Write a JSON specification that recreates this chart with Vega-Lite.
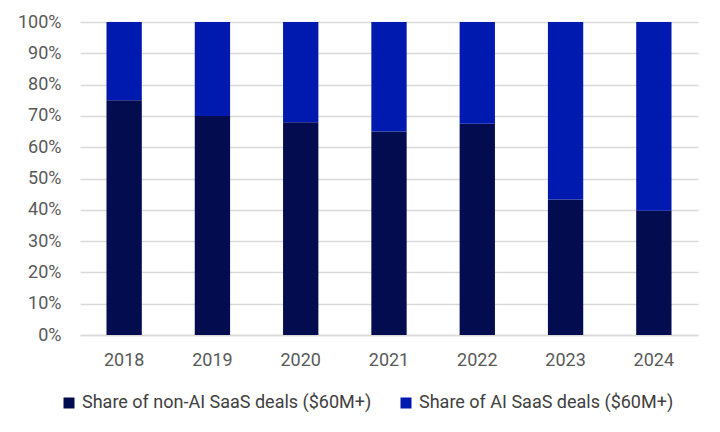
{
  "$schema": "https://vega.github.io/schema/vega-lite/v6.json",
  "width": 618,
  "height": 313,
  "autosize": "none",
  "padding": {"left": 80, "top": 22, "right": 22, "bottom": 97},
  "background": "white",
  "config": {
    "view": {"stroke": null},
    "font": "Roboto",
    "axis": {"labelFont": "Roboto", "labelFontSize": 18, "labelColor": "#595959"},
    "legend": {"labelFont": "Roboto", "labelFontSize": 18, "labelColor": "#404040", "labelLimit": 0}
  },
  "data": {
    "values": [
      {"year": "2018", "series": "Share of non-AI SaaS deals ($60M+)", "share": 0.75},
      {"year": "2019", "series": "Share of non-AI SaaS deals ($60M+)", "share": 0.70},
      {"year": "2020", "series": "Share of non-AI SaaS deals ($60M+)", "share": 0.68},
      {"year": "2021", "series": "Share of non-AI SaaS deals ($60M+)", "share": 0.65},
      {"year": "2022", "series": "Share of non-AI SaaS deals ($60M+)", "share": 0.675},
      {"year": "2023", "series": "Share of non-AI SaaS deals ($60M+)", "share": 0.433},
      {"year": "2024", "series": "Share of non-AI SaaS deals ($60M+)", "share": 0.397},
      {"year": "2018", "series": "Share of AI SaaS deals ($60M+)", "share": 0.25},
      {"year": "2019", "series": "Share of AI SaaS deals ($60M+)", "share": 0.30},
      {"year": "2020", "series": "Share of AI SaaS deals ($60M+)", "share": 0.32},
      {"year": "2021", "series": "Share of AI SaaS deals ($60M+)", "share": 0.35},
      {"year": "2022", "series": "Share of AI SaaS deals ($60M+)", "share": 0.325},
      {"year": "2023", "series": "Share of AI SaaS deals ($60M+)", "share": 0.567},
      {"year": "2024", "series": "Share of AI SaaS deals ($60M+)", "share": 0.603}
    ]
  },
  "mark": {"type": "bar"},
  "encoding": {
    "x": {
      "field": "year",
      "type": "nominal",
      "title": null,
      "scale": {"paddingInner": 0.6, "paddingOuter": 0.3},
      "axis": {
        "labelAngle": 0,
        "ticks": false,
        "domain": true,
        "domainColor": "#D9D9D9",
        "domainWidth": 1.5,
        "labelPadding": 16
      }
    },
    "y": {
      "field": "share",
      "type": "quantitative",
      "title": null,
      "stack": "zero",
      "scale": {"domain": [0, 1], "nice": false},
      "axis": {
        "format": ".0%",
        "values": [0, 0.1, 0.2, 0.3, 0.4, 0.5, 0.6, 0.7, 0.8, 0.9, 1],
        "ticks": false,
        "domain": false,
        "gridColor": "#D9D9D9",
        "gridWidth": 1.5,
        "labelPadding": 19
      }
    },
    "color": {
      "field": "series",
      "type": "nominal",
      "sort": ["Share of non-AI SaaS deals ($60M+)", "Share of AI SaaS deals ($60M+)"],
      "scale": {
        "domain": ["Share of non-AI SaaS deals ($60M+)", "Share of AI SaaS deals ($60M+)"],
        "range": ["#020C4E", "#0019AF"]
      },
      "legend": {
        "title": null,
        "orient": "none",
        "direction": "horizontal",
        "legendX": -20,
        "legendY": 372,
        "symbolType": "square",
        "symbolSize": 121,
        "symbolStrokeWidth": 0,
        "labelOffset": 4,
        "columnPadding": 25
      }
    }
  }
}
